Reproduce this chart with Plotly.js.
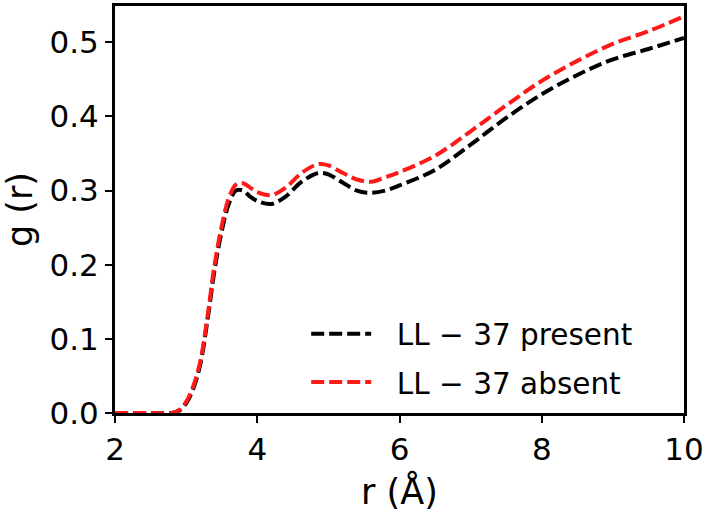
<!DOCTYPE html>
<html>
<head>
<meta charset="utf-8">
<script src="https://cdn.plot.ly/plotly-3.0.1.min.js"></script>
<style>html,body{margin:0;padding:0;background:#fff;}#chart{width:708px;height:514px;}</style>
</head>
<body>
<div id="chart"></div>
<script>
const r = [2.0, 2.5, 2.8, 2.9, 3.0, 3.1, 3.2, 3.3, 3.4, 3.5, 3.6, 3.7, 3.8, 3.9, 4.0, 4.2, 4.4, 4.6, 4.8, 4.9, 5.0, 5.2, 5.4, 5.6, 5.8, 6.0, 6.5, 7.0, 7.5, 8.0, 8.5, 9.0, 9.5, 10.0];
const gPresent = [0, 0, 0, 0.003, 0.013, 0.033, 0.066, 0.125, 0.193, 0.245, 0.282, 0.300, 0.300, 0.292, 0.286, 0.282, 0.292, 0.310, 0.322, 0.324, 0.322, 0.311, 0.300, 0.297, 0.300, 0.307, 0.328, 0.362, 0.398, 0.430, 0.456, 0.477, 0.491, 0.506];
const gAbsent = [0, 0, 0, 0.004, 0.015, 0.036, 0.070, 0.130, 0.200, 0.252, 0.290, 0.308, 0.310, 0.304, 0.298, 0.294, 0.304, 0.322, 0.334, 0.336, 0.334, 0.324, 0.315, 0.312, 0.318, 0.325, 0.347, 0.380, 0.415, 0.448, 0.475, 0.498, 0.515, 0.535];
const names = ["LL \u2212 37 present", "LL \u2212 37 absent"];
const xTicks = [2, 4, 6, 8, 10];
const yTicks = [0, 0.1, 0.2, 0.3, 0.4, 0.5];

const font = "DejaVu Sans, sans-serif";
const gap = "\u2002\u2009";
const traces = [
  {x: r, y: gPresent, name: gap + names[0], legendgroup: "a", mode: "lines", line: {color: "#000000", width: 4, dash: "13px,5px", shape: "spline", smoothing: 1}},
  {x: r, y: gAbsent, name: gap + names[1], legendgroup: "b", mode: "lines", line: {color: "#ff1a1a", width: 4, dash: "13px,5px", shape: "spline", smoothing: 1}}
];
const axisCommon = {
  showline: true, linecolor: "#000", linewidth: 3, mirror: true,
  ticks: "outside", ticklen: 7, tickwidth: 2, tickcolor: "#000",
  showgrid: false, zeroline: false,
  tickfont: {family: font, size: 31, color: "#000"}
};
const layout = {
  width: 708, height: 514,
  margin: {l: 115, r: 24, t: 6, b: 101},
  paper_bgcolor: "#fff", plot_bgcolor: "#fff",
  showlegend: true,
  legend: {x: 0.336, y: 0.258, xanchor: "left", yanchor: "top", bgcolor: "rgba(255,255,255,0)",
    itemwidth: 60, tracegroupgap: 7, traceorder: "grouped",
    font: {family: font, size: 29.5, color: "#000"}},
  xaxis: Object.assign({}, axisCommon, {range: [2, 10], tickvals: xTicks, ticktext: xTicks.map(String),
    title: {text: "r (\u00c5)", font: {family: font, size: 35, color: "#000"}, standoff: 14}}),
  yaxis: Object.assign({}, axisCommon, {range: [0, 0.549], tickvals: yTicks, ticktext: yTicks.map(v => v.toFixed(1)),
    title: {text: "g (r)", font: {family: font, size: 35, color: "#000"}, standoff: 16}})
};
Plotly.newPlot("chart", traces, layout, {displayModeBar: false, staticPlot: true});
</script>
</body>
</html>
